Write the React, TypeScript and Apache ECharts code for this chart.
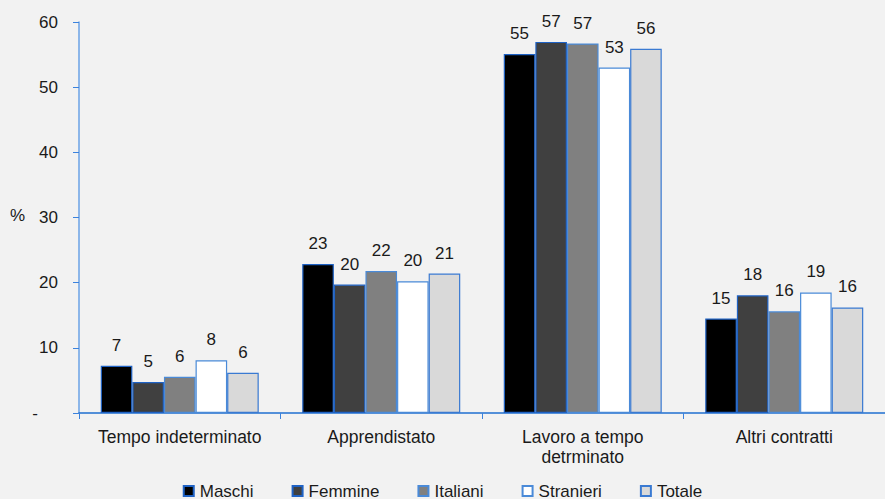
import React, { useEffect, useRef } from "react";
import * as echarts from "echarts";

const categories = ["Tempo indeterminato", "Apprendistato", "Lavoro a tempo\ndetrminato", "Altri contratti"];
const seriesNames = ["Maschi", "Femmine", "Italiani", "Stranieri", "Totale"];
const maschi = [7.25, 22.85, 55.1, 14.5];
const femmine = [4.75, 19.7, 56.95, 18.05];
const italiani = [5.57, 21.8, 56.7, 15.6];
const stranieri = [8.08, 20.2, 53.0, 18.5];
const totale = [6.18, 21.4, 55.9, 16.2];
const seriesData = [maschi, femmine, italiani, stranieri, totale];
const fills = ["#000000", "#404040", "#808080", "#ffffff", "#d9d9d9"];
const borders = ["#1f62c4", "#1f62c4", "#4a8ad8", "#4a8ad8", "#3a7ad2"];

const FONT = "'Liberation Sans', Arial, sans-serif";

export default function App() {
  const ref = useRef<HTMLDivElement>(null);
  useEffect(() => {
    const chart = echarts.init(ref.current!, null, { renderer: "svg" });
    chart.setOption({
      animation: false,
      backgroundColor: "#f2f2f2",
      textStyle: { fontFamily: FONT },
      grid: { left: 79, right: -12, top: 22, bottom: 86, containLabel: false },
      graphic: [
        {
          type: "text",
          left: 10,
          top: 207,
          style: { text: "%", font: `17px ${FONT}`, fill: "#1a1a1a" },
        },
      ],
      legend: {
        data: seriesNames,
        left: "center",
        top: 477,
        itemWidth: 10,
        itemHeight: 10,
        itemGap: 38,
        icon: "rect",
        textStyle: { fontSize: 17, lineHeight: 18, color: "#1a1a1a", fontFamily: FONT, padding: [0, 0, 0, 1] },
      },
      xAxis: {
        type: "category",
        data: categories,
        axisLine: { lineStyle: { color: "#1f6fd0", width: 1.5 } },
        axisTick: { show: true, length: 6, lineStyle: { color: "#3b82dc" } },
        axisLabel: { fontSize: 17.5, color: "#1a1a1a", margin: 14, lineHeight: 20, interval: 0 },
        splitLine: { show: false },
      },
      yAxis: {
        type: "value",
        min: 0,
        max: 60,
        interval: 10,
        axisLine: { show: true, lineStyle: { color: "#6aa2e6", width: 1.5 } },
        axisTick: { show: true, length: 6, lineStyle: { color: "#3b82dc" } },
        splitLine: { show: false },
        axisLabel: {
          fontSize: 17,
          color: "#1a1a1a",
          margin: 21,
          formatter: (v: number) => (v === 0 ? "{z|-}" : String(v)),
          rich: { z: { fontSize: 17, color: "#1a1a1a", padding: [0, 20, 0, 0] } },
        },
      },
      series: seriesNames.map((name, i) => ({
        name,
        type: "bar",
        data: seriesData[i],
        barWidth: 31.6,
        barGap: "0%",
        itemStyle: { color: fills[i], borderColor: borders[i], borderWidth: 1.2 },
        label: {
          show: true,
          position: "top",
          distance: 12,
          fontSize: 17,
          color: "#1a1a1a",
          formatter: (p: any) => String(Math.round(p.value)),
        },
      })),
    });
    return () => chart.dispose();
  }, []);
  return (
    <div
      ref={ref}
      style={{ position: "fixed", left: 0, top: 0, width: 885, height: 499, background: "#f2f2f2" }}
    />
  );
}
